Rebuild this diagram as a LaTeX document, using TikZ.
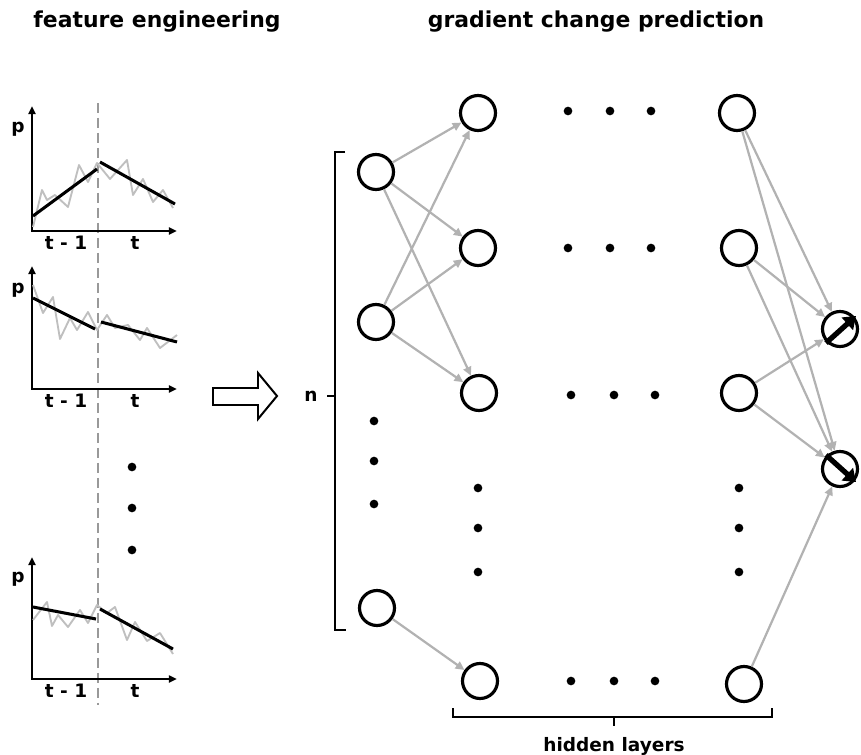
\documentclass[tikz,border=0pt]{standalone}
\usepackage{fontspec}
\setmainfont{DejaVu Sans}
\usetikzlibrary{arrows.meta}

\begin{document}
\begin{tikzpicture}[x=0.03cm,y=-0.03cm,
    neuron/.style={circle,draw,line width=2.7pt,minimum size=1.05cm,inner sep=0pt},
    link/.style={draw=gray!60,line width=1.9pt,-{Triangle[length=7.5pt,width=7pt]}},
    axis/.style={line width=1.8pt,{Triangle[length=7pt,width=6pt]}-{Triangle[length=7pt,width=6pt]}},
    noise/.style={gray!50,line width=1.6pt,line join=round},
    trend/.style={line width=2.6pt},
    bracket/.style={line width=1.9pt},
    dotstyle/.style={circle,fill,inner sep=0pt,minimum size=0.26cm},
    title/.style={font=\fontsize{18.7}{22}\selectfont\bfseries,anchor=base},
    label/.style={font=\fontsize{15.8}{18}\selectfont\bfseries,anchor=base}]
\useasboundingbox (0,0) rectangle (861,755);

% titles
\node[title] (fe) at (157,27) {feature engineering};
\node[title] (gcp) at (596,27) {gradient change prediction};

% split between t-1 and t
\draw[gray!80,line width=1.8pt,dash pattern=on 8.5pt off 4.3pt] (98,103) -- (98,705);

% plot 1
\draw[axis] (32,106) -- (32,231) -- (177,231);
\draw[noise] (33,227) -- (42,190) -- (47,200) -- (55,195) -- (68,207) -- (79,165) -- (88,182) -- (97,163)
    -- (110,179) -- (127,160) -- (133,195) -- (143,179) -- (153,202) -- (163,190) -- (173,208);
\draw[trend] (33,216) -- (97,169);
\draw[trend] (100,162) -- (175,204);
\node[label] (p1) at (18,132) {p};
\node[label] (ta1) at (66,249) {t - 1};
\node[label] (tb1) at (135,249) {t};

% plot 2
\draw[axis] (32,266) -- (32,389) -- (177,389);
\draw[noise] (33,285) -- (43,313) -- (53,297) -- (60,339) -- (70,318) -- (77,330) -- (88,312) -- (97,330)
    -- (107,315) -- (115,328) -- (128,325) -- (140,340) -- (147,328) -- (160,348) -- (177,335);
\draw[trend] (33,298) -- (95,329);
\draw[trend] (101,322) -- (177,342);
\node[label] (p2) at (18,293) {p};
\node[label] (ta2) at (66,407) {t - 1};
\node[label] (tb2) at (135,407) {t};

% plot 3
\draw[axis] (32,557) -- (32,679) -- (177,679);
\draw[noise] (33,620) -- (47,602) -- (52,626) -- (58,615) -- (68,627) -- (80,610) -- (88,623) -- (97,605)
    -- (107,613) -- (115,607) -- (127,640) -- (135,622) -- (147,641) -- (160,633) -- (173,654);
\draw[trend] (33,607) -- (96,619);
\draw[trend] (100,609) -- (173,649);
\node[label] (p3) at (18,582) {p};
\node[label] (ta3) at (66,697) {t - 1};
\node[label] (tb3) at (135,697) {t};

\foreach \y in {467,508,550} \node[dotstyle] at (132,\y) {};

% hollow arrow
\draw[line width=1.7pt,line join=miter] (213,388) -- (258,388) -- (258,373) -- (277,396)
    -- (258,419) -- (258,405) -- (213,405) -- cycle;

% input bracket
\draw[bracket] (345,152) -- (335,152) -- (335,630) -- (346,630);
\draw[bracket] (335,396) -- (327,396);
\node[label] (n) at (311,401) {n};

% network
\node[neuron] (in1) at (376,172) {};
\node[neuron] (in2) at (376,322) {};
\node[neuron] (in3) at (377,608) {};
\node[neuron] (h1) at (478,113) {};
\node[neuron] (h2) at (478,248) {};
\node[neuron] (h3) at (479,393) {};
\node[neuron] (h4) at (480,681) {};
\node[neuron] (l1) at (737,113) {};
\node[neuron] (l2) at (739,248) {};
\node[neuron] (l3) at (739,393) {};
\node[neuron] (l4) at (744,684) {};
\node[neuron] (o1) at (840,329) {};
\node[neuron] (o2) at (840,469) {};

\draw[link] (in1) -- (h1);
\draw[link] (in1) -- (h2);
\draw[link] (in1) -- (h3);
\draw[link] (in2) -- (h1);
\draw[link] (in2) -- (h2);
\draw[link] (in2) -- (h3);
\draw[link] (in3) -- (h4);
\draw[link] (l1) -- (o1);
\draw[link] (l1) -- (o2);
\draw[link] (l2) -- (o1);
\draw[link] (l2) -- (o2);
\draw[link] (l3) -- (o1);
\draw[link] (l3) -- (o2);
\draw[link] (l4) -- (o2);

% up / down signs
\draw[line width=4.5pt,-{Triangle[length=10pt,width=14pt]}] (o1.center) ++(-14,14) -- ++(30,-27);
\draw[line width=4.5pt,-{Triangle[length=10pt,width=14pt]}] (o2.center) ++(-14,-14) -- ++(30,27);

% dots
\foreach \x in {568,610,651} \node[dotstyle] at (\x,111) {};
\foreach \x in {568,610,651} \node[dotstyle] at (\x,248) {};
\foreach \x in {571,614,655} \node[dotstyle] at (\x,395) {};
\foreach \x in {571,614,655} \node[dotstyle] at (\x,681) {};
\foreach \y in {421,461,504} \node[dotstyle] at (374,\y) {};
\foreach \y in {488,528,572} \node[dotstyle] at (478,\y) {};
\foreach \y in {488,528,572} \node[dotstyle] at (739,\y) {};

% hidden layers bracket
\draw[bracket] (453,708) -- (453,717) -- (772,717) -- (772,708);
\draw[bracket] (614,717) -- (614,726);
\node[label] (hl) at (614,751) {hidden layers};
\end{tikzpicture}
\end{document}
